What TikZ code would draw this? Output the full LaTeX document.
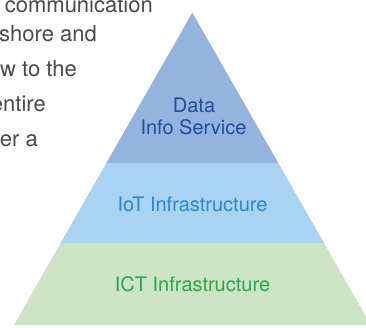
\documentclass[tikz,border=0pt]{standalone}
\usepackage{fontspec}
\setmainfont{TeX Gyre Heros}
\definecolor{topfill}{HTML}{95B3DF}
\definecolor{midfill}{HTML}{A8D4F1}
\definecolor{botfill}{HTML}{CDE4C5}
\definecolor{toptext}{HTML}{1D4E9C}
\definecolor{midtext}{HTML}{2A87D0}
\definecolor{bottext}{HTML}{2AA64E}
\definecolor{greytext}{HTML}{4A4A4A}
\tikzset{
  layertext/.style={inner sep=0pt, font=\fontsize{20}{22}\selectfont, align=center},
  bodytext/.style={inner sep=0pt, anchor=base east, text=greytext, font=\fontsize{22}{24}\selectfont},
}
\begin{document}
\begin{tikzpicture}[x=1pt,y=-1pt]
\useasboundingbox (0,0) rectangle (366,327);
\clip (0,0) rectangle (366,327);
% pyramid layers
\coordinate (apex) at (192.3,12.7);
\coordinate (l1) at (106.3,163); \coordinate (r1) at (278.3,163);
\coordinate (l2) at (60.6,243);  \coordinate (r2) at (324.0,243);
\coordinate (l3) at (14.0,325);  \coordinate (r3) at (370.8,325);
\fill[topfill] (apex) -- (r1) -- (l1) -- cycle;
\fill[midfill] (l1) -- (r1) -- (r2) -- (l2) -- cycle;
\fill[botfill] (l2) -- (r2) -- (r3) -- (l3) -- cycle;
% layer labels
\node[layertext, text=toptext, anchor=base] (data) at (194,112) {Data};
\node[layertext, text=toptext, anchor=base] (info) at (193.5,134) {Info Service};
\node[layertext, text=midtext, anchor=base] (iot) at (192.5,211.7) {IoT Infrastructure};
\node[layertext, text=bottext, anchor=base] (ict) at (192.5,291.7) {ICT Infrastructure};
% body text at left
\node[bodytext] (t1) at (153,12) {communication};
\node[bodytext] (t2) at (97,41.5) {shore and};
\node[bodytext] (t3) at (77,76) {w to the};
\node[bodytext] (t4) at (46,111) {entire};
\node[bodytext] (t5) at (38,146) {er a};
\end{tikzpicture}
\end{document}
